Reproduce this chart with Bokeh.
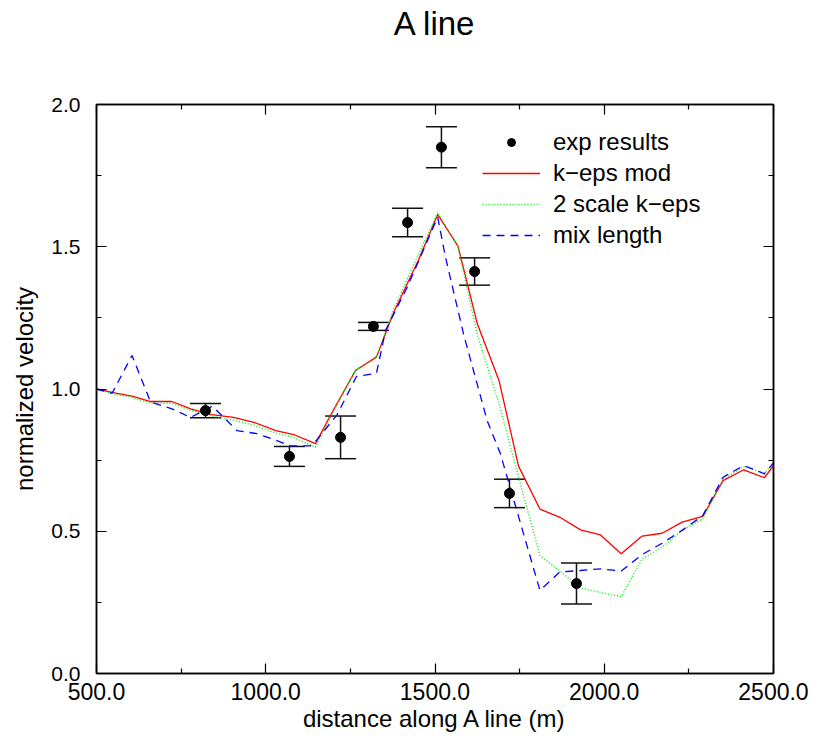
from bokeh.plotting import figure
from bokeh.models import (Whisker, TeeHead, ColumnDataSource, LinearAxis, FixedTicker,
                          NumeralTickFormatter, Legend, LegendItem, Range1d)
from bokeh.embed import file_html
from bokeh.resources import INLINE

# ---- data ----
x_model = [500, 560, 605, 660, 723, 778, 840, 905, 965, 1030, 1082, 1147, 1191, 1265, 1327,
           1378, 1450, 1508, 1568, 1625, 1689, 1747, 1810, 1869, 1930, 1989, 2050, 2112,
           2171, 2230, 2291, 2351, 2412, 2473, 2500]
k_eps_mod = [1.0, 0.985, 0.975, 0.956, 0.956, 0.93, 0.91, 0.90, 0.883, 0.854, 0.84, 0.808,
             0.907, 1.065, 1.112, 1.27, 1.45, 1.613, 1.502, 1.229, 1.03, 0.728, 0.578, 0.549,
             0.505, 0.487, 0.421, 0.483, 0.493, 0.532, 0.552, 0.678, 0.716, 0.688, 0.731]
two_scale_k_eps = [1.0, 0.98, 0.97, 0.95, 0.95, 0.925, 0.905, 0.89, 0.873, 0.845, 0.83, 0.795,
                   0.90, 1.065, 1.115, 1.28, 1.47, 1.62, 1.50, 1.19, 0.95, 0.69, 0.415, 0.36,
                   0.30, 0.285, 0.27, 0.403, 0.444, 0.503, 0.544, 0.684, 0.727, 0.704, 0.74]
x_mix = [500, 546, 605, 660, 723, 778, 842, 915, 974, 1030, 1073, 1132, 1150, 1211, 1268, 1327,
         1354, 1418, 1508, 1531, 1585, 1654, 1693, 1810, 1869, 1930, 1989, 2050, 2112, 2171,
         2230, 2291, 2351, 2412, 2473, 2500]
mix_length = [1.0, 0.985, 1.118, 0.954, 0.93, 0.90, 0.94, 0.854, 0.843, 0.82, 0.80, 0.80, 0.82,
              0.91, 1.044, 1.055, 1.206, 1.358, 1.604, 1.463, 1.19, 0.889, 0.773, 0.292, 0.357,
              0.362, 0.368, 0.36, 0.418, 0.458, 0.503, 0.555, 0.69, 0.731, 0.702, 0.74]
exp_x = [822, 1070, 1221, 1318, 1419, 1519, 1617, 1720, 1918]
exp_y = [0.924, 0.763, 0.83, 1.22, 1.585, 1.85, 1.413, 0.633, 0.316]
exp_err = [0.025, 0.035, 0.075, 0.014, 0.05, 0.072, 0.048, 0.05, 0.072]

x_ticks = [500, 1000, 1500, 2000, 2500]
x_minor = [750, 1250, 1750, 2250]
y_ticks = [0.0, 0.5, 1.0, 1.5, 2.0]
y_minor = [0.25, 0.75, 1.25, 1.75]
title_text = "A line"

FONT = "Liberation Sans"

p = figure(width=813, height=739, output_backend="svg", toolbar_location=None,
           x_range=Range1d(500, 2500), y_range=Range1d(0, 2),
           min_border_left=96, min_border_right=40, min_border_top=104, min_border_bottom=66,
           background_fill_color="white", border_fill_color="white")
p.grid.visible = False
p.outline_line_color = "black"
p.outline_line_width = 1.5
p.title.visible = False

def style_axis(ax, ticks, minor, show_labels):
    ax.ticker = FixedTicker(ticks=ticks, minor_ticks=minor)
    ax.formatter = NumeralTickFormatter(format="0.0")
    ax.major_tick_in = 10
    ax.major_tick_out = 0
    ax.minor_tick_in = 5
    ax.minor_tick_out = 0
    ax.axis_line_color = "black"
    ax.axis_line_width = 1.5
    ax.major_tick_line_width = 1.2
    ax.minor_tick_line_width = 1.2
    ax.major_label_text_font = FONT
    ax.major_label_text_color = "black"
    if not show_labels:
        ax.major_label_overrides = {t: "" for t in ticks}
        ax.major_label_standoff = 0
        ax.major_label_text_font_size = "1px"

xa = p.xaxis[0]
style_axis(xa, x_ticks, x_minor, True)
xa.major_label_text_font = "Liberation Sans Narrow, Liberation Sans"
xa.major_label_text_font_size = "23px"
xa.major_label_standoff = 9
xa.axis_label = "distance along A line (m)"
xa.axis_label_text_font = FONT
xa.axis_label_text_font_size = "24px"
xa.axis_label_text_font_style = "normal"
xa.axis_label_text_color = "black"
xa.axis_label_standoff = 2

ya = p.yaxis[0]
style_axis(ya, y_ticks, y_minor, True)
ya.major_label_text_font_size = "21px"
ya.major_label_standoff = 16
ya.axis_label = "normalized velocity"
ya.axis_label_text_font = FONT
ya.axis_label_text_font_size = "24px"
ya.axis_label_text_font_style = "normal"
ya.axis_label_text_color = "black"
ya.axis_label_standoff = 10

# top axis carries the chart title as its label
top = LinearAxis()
style_axis(top, x_ticks, x_minor, False)
top.axis_label = title_text
top.axis_label_text_font = FONT
top.axis_label_text_font_size = "33px"
top.axis_label_text_font_style = "normal"
top.axis_label_text_color = "black"
top.axis_label_standoff = 63
p.add_layout(top, "above")
right = LinearAxis()
style_axis(right, y_ticks, y_minor, False)
p.add_layout(right, "right")

r_red = p.line(x_model, k_eps_mod, line_color="#ff0000", line_width=1.3)
r_green = p.line(x_model, two_scale_k_eps, line_color="#00ee00", line_width=1.4, line_dash="1 2")
r_blue = p.line(x_mix, mix_length, line_color="#0000ff", line_width=1.3, line_dash="8 6")

src = ColumnDataSource(dict(x=exp_x, y=exp_y,
                            lo=[a - b for a, b in zip(exp_y, exp_err)],
                            hi=[a + b for a, b in zip(exp_y, exp_err)]))
wh = Whisker(source=src, base="x", lower="lo", upper="hi", line_color="#111111", line_width=1.5,
             upper_head=TeeHead(size=31, line_color="#111111", line_width=1.5),
             lower_head=TeeHead(size=31, line_color="#111111", line_width=1.5))
p.add_layout(wh)
r_exp = p.scatter("x", "y", source=src, size=10, color="black")

legend = Legend(items=[LegendItem(label="exp results", renderers=[r_exp]),
                       LegendItem(label="k\u2212eps mod", renderers=[r_red]),
                       LegendItem(label="2 scale k\u2212eps", renderers=[r_green]),
                       LegendItem(label="mix length", renderers=[r_blue])],
                location=(386, 424), border_line_color=None, background_fill_alpha=0,
                glyph_width=58, glyph_height=20, label_height=20, spacing=3,
                label_standoff=13, padding=0, margin=0,
                label_text_font=FONT, label_text_font_size="24px", label_text_color="black")
p.add_layout(legend)

open("out.html", "w").write(file_html(p, INLINE))
